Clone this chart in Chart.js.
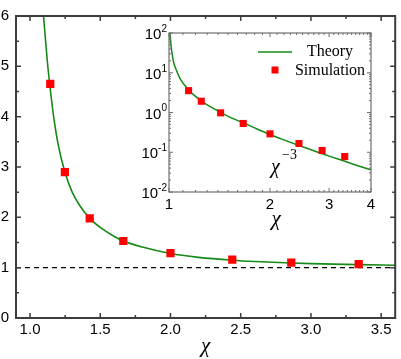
<!DOCTYPE html>
<html>
<head>
<meta charset="utf-8">
<script src="https://cdn.jsdelivr.net/npm/chart.js@4.4.1/dist/chart.umd.min.js"></script>
<style>
  html, body { margin: 0; padding: 0; background: #fff; }
  #wrap { position: relative; width: 401px; height: 359px; }
  #main { position: absolute; left: 0; top: 0; }
  #inset { position: absolute; left: 130px; top: 18px; }
</style>
</head>
<body>
<div id="wrap">
  <canvas id="main" width="401" height="359"></canvas>
  <canvas id="inset" width="255" height="218"></canvas>
</div>
<script>
// main panel data
const simX = [1.144, 1.248, 1.425, 1.664, 2.0, 2.44, 2.86, 3.34];
const simY = [4.65, 2.9, 1.98, 1.53, 1.29, 1.16, 1.10, 1.07];
const theoryX = [1.096, 1.123, 1.144, 1.168, 1.2, 1.248, 1.3, 1.35, 1.425, 1.5, 1.6, 1.664, 1.8, 2.0, 2.2, 2.44, 2.6, 2.86, 3.0, 3.34, 3.6];
const theoryY = [6.0, 5.1, 4.55, 4.0, 3.45, 2.9, 2.5, 2.25, 1.98, 1.8, 1.62, 1.53, 1.41, 1.28, 1.205, 1.148, 1.122, 1.092, 1.08, 1.06, 1.048];
const refLevel = 1;
const xTicks = [1.0, 1.5, 2.0, 2.5, 3.0, 3.5];
const xMinor = [1.25, 1.75, 2.25, 2.75, 3.25];
const yTicks = [0, 1, 2, 3, 4, 5, 6];
const yMinor = [0.5, 1.5, 2.5, 3.5, 4.5, 5.5];

// inset (log-log) data
const insetSimY = [3.55, 1.92, 0.98, 0.53, 0.29, 0.166, 0.111, 0.078];
const insetTheoryX = [1.007, 1.015, 1.03, 1.05, 1.08, 1.147, 1.2, 1.248, 1.3, 1.426, 1.5, 1.665, 1.8, 2.0, 2.2, 2.44, 2.6, 2.86, 3.0, 3.33, 3.6, 4.0];
const insetTheoryY = [100, 45, 20, 12, 7, 3.6, 2.55, 1.95, 1.55, 1.0, 0.8, 0.55, 0.41, 0.28, 0.205, 0.148, 0.122, 0.092, 0.08, 0.06, 0.048, 0.036];
const insetXTicks = [1, 2, 3, 4];
const insetYExp = [-2, -1, 0, 1, 2];

const GREEN = '#168a16';
const RED = '#ff0000';
const pts = (xs, ys) => xs.map((x, i) => ({ x, y: ys[i] }));

// frame with inward ticks on all four sides
function drawFrame(chart, o) {
  const { ctx, chartArea: a, scales: { x, y } } = chart;
  ctx.save();
  ctx.strokeStyle = o.color;
  ctx.lineWidth = o.tickWidth;
  ctx.beginPath();
  const xt = (vals, len) => vals.forEach(v => {
    const p = x.getPixelForValue(v);
    ctx.moveTo(p, a.bottom); ctx.lineTo(p, a.bottom - len);
    ctx.moveTo(p, a.top); ctx.lineTo(p, a.top + len);
  });
  const yt = (vals, len) => vals.forEach(v => {
    const p = y.getPixelForValue(v);
    ctx.moveTo(a.left, p); ctx.lineTo(a.left + len, p);
    ctx.moveTo(a.right, p); ctx.lineTo(a.right - len, p);
  });
  xt(o.xMajor, o.major); xt(o.xMinor, o.minor);
  yt(o.yMajor, o.major); yt(o.yMinor, o.minor);
  ctx.stroke();
  ctx.lineWidth = o.width;
  ctx.strokeRect(a.left, a.top, a.right - a.left, a.bottom - a.top);
  ctx.restore();
}

const framePlugin = {
  id: 'frame',
  afterDatasetsDraw(chart, args, o) { drawFrame(chart, o); }
};

new Chart(document.getElementById('main'), {
  type: 'scatter',
  data: {
    datasets: [
      { label: 'Simulation', data: pts(simX, simY), pointStyle: 'rect', pointRadius: 5.8,
        backgroundColor: RED, borderWidth: 0, order: 0 },
      { label: 'Theory', data: pts(theoryX, theoryY), showLine: true, borderColor: GREEN,
        borderWidth: 1.6, pointRadius: 0, cubicInterpolationMode: 'monotone', order: 1 },
      { label: 'ref', data: [{ x: 0.9, y: refLevel }, { x: 3.6, y: refLevel }], showLine: true,
        borderColor: '#000', borderWidth: 1.2, borderDash: [5, 4], pointRadius: 0, order: 2 }
    ]
  },
  options: {
    responsive: false,
    animation: false,
    layout: { padding: { top: 9, right: 2, left: 0, bottom: 0 } },
    plugins: {
      legend: { display: false },
      tooltip: { enabled: false },
      frame: { color: '#3c3c3c', width: 2, tickWidth: 1.5, major: 5, minor: 3,
        xMajor: xTicks, xMinor: xMinor, yMajor: yTicks, yMinor: yMinor }
    },
    scales: {
      x: {
        type: 'linear', min: 0.9, max: 3.6,
        afterBuildTicks: s => { s.ticks = xTicks.map(v => ({ value: v })); },
        ticks: { callback: v => v.toFixed(1), color: '#000', padding: 3, maxRotation: 0, autoSkip: false,
          font: { family: 'Liberation Sans', size: 15 } },
        grid: { display: false, drawTicks: false },
        border: { display: false },
        title: { display: true, text: 'χ', color: '#000', padding: { top: 0, bottom: 0 },
          font: { family: 'Liberation Serif', style: 'italic', size: 21 } },
        afterFit: s => { s.height = 41; }
      },
      y: {
        min: 0, max: 6,
        afterBuildTicks: s => { s.ticks = yTicks.map(v => ({ value: v })); },
        ticks: { color: '#000', padding: 7, font: { family: 'Liberation Sans', size: 15 } },
        grid: { display: false, drawTicks: false },
        border: { display: false },
        afterFit: s => { s.width = 16; }
      }
    }
  },
  plugins: [framePlugin]
});

// log minor ticks for the inset
const insetXMinor = [];
for (let d = 1; d < 4; d++) for (let k = 1; k < 10; k++) insetXMinor.push(d + k / 10);
const insetYMinor = [];
insetYExp.slice(0, -1).forEach(e => { for (let k = 2; k < 10; k++) insetYMinor.push(k * Math.pow(10, e)); });

const insetDecor = {
  id: 'insetDecor',
  afterDatasetsDraw(chart, args, o) {
    const { ctx, chartArea: a, scales: { x, y } } = chart;
    drawFrame(chart, o);
    ctx.save();
    ctx.fillStyle = '#000';
    // y labels 10^n
    ctx.textBaseline = 'middle';
    insetYExp.forEach(e => {
      const p = y.getPixelForValue(Math.pow(10, e));
      const exp = e < 0 ? '-' + (-e) : String(e);
      ctx.font = '10px "Liberation Sans"';
      const ew = ctx.measureText(exp).width;
      const right = a.left - 2;
      ctx.textAlign = 'right';
      ctx.fillText(exp, right, p - 4);
      ctx.font = '15px "Liberation Sans"';
      ctx.fillText('10', right - ew, p + 2);
    });
    // x labels
    ctx.textAlign = 'center';
    ctx.textBaseline = 'top';
    ctx.font = '15px "Liberation Sans"';
    insetXTicks.forEach(v => ctx.fillText(String(v), x.getPixelForValue(v), a.bottom + 5));
    // axis title
    ctx.textBaseline = 'middle';
    ctx.font = 'italic 21px "Liberation Serif"';
    ctx.fillText('χ', (a.left + a.right) / 2 + 6, a.bottom + 27);
    // legend
    const ds = chart.data.datasets;
    const lx = 128, cx = 200;
    ctx.strokeStyle = GREEN; ctx.lineWidth = 1.6;
    ctx.beginPath(); ctx.moveTo(lx, 34); ctx.lineTo(lx + 34, 34); ctx.stroke();
    ctx.fillStyle = RED; ctx.fillRect(lx + 13.5, 48.5, 7, 7);
    ctx.fillStyle = '#000';
    ctx.font = '16px "Liberation Serif"';
    ctx.fillText(ds[1].label, cx, 34);
    ctx.fillText(ds[0].label, cx, 52.5);
    // power-law annotation
    ctx.font = 'italic 20px "Liberation Serif"';
    ctx.textAlign = 'left';
    ctx.fillText('χ', 141, 150);
    ctx.font = '14px "Liberation Serif"';
    ctx.fillText('−3', 152, 137.5);
    ctx.restore();
  }
};

new Chart(document.getElementById('inset'), {
  type: 'scatter',
  data: {
    datasets: [
      { label: 'Simulation', data: pts(simX, insetSimY), pointStyle: 'rect', pointRadius: 5,
        backgroundColor: RED, borderWidth: 0, order: 0 },
      { label: 'Theory', data: pts(insetTheoryX, insetTheoryY), showLine: true, borderColor: GREEN,
        borderWidth: 1.5, pointRadius: 0, cubicInterpolationMode: 'monotone', order: 1 }
    ]
  },
  options: {
    responsive: false,
    animation: false,
    layout: { padding: { left: 39, right: 14, top: 15, bottom: 44 } },
    plugins: {
      legend: { display: false },
      tooltip: { enabled: false },
      insetDecor: { color: '#6e6e6e', width: 1.2, tickWidth: 1, major: 4, minor: 2,
        xMajor: insetXTicks, xMinor: insetXMinor,
        yMajor: insetYExp.map(e => Math.pow(10, e)), yMinor: insetYMinor }
    },
    scales: {
      x: { type: 'logarithmic', min: 1, max: 4, ticks: { display: false },
        grid: { display: false, drawTicks: false }, border: { display: false },
        afterFit: s => { s.height = 0; } },
      y: { type: 'logarithmic', min: 0.01, max: 100, ticks: { display: false },
        grid: { display: false, drawTicks: false }, border: { display: false },
        afterFit: s => { s.width = 0; } }
    }
  },
  plugins: [insetDecor]
});
</script>
</body>
</html>
